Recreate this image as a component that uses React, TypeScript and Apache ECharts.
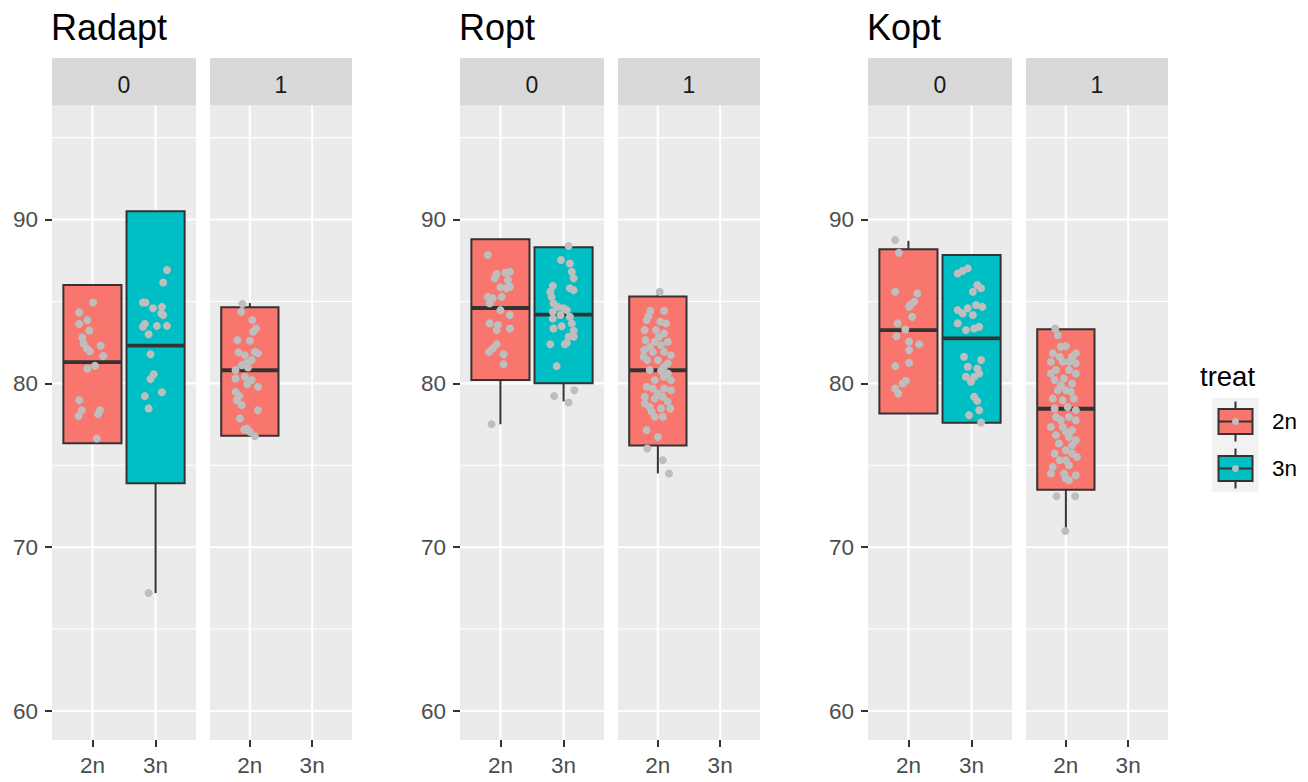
import React, { useEffect, useRef } from "react";
import * as echarts from "echarts";

const panelTitles = ["Radapt", "Ropt", "Kopt"];
const facetLabels = ["0", "1"];
const treatLabels = ["2n", "3n"];
const treatColors = ["#F8766D", "#00BFC4"];
const yTickValues = [60, 70, 80, 90];
const yGridValues = [60, 65, 70, 75, 80, 85, 90, 95];
const yRange = [58.23, 96.96];
const xRange = [0.36, 2.64];
const xPositions = [1, 2];

// [facet, treatIdx, lowerWhisker, q1, median, q3, upperWhisker]
const radaptBoxes = [
  [0, 0, 76.34, 76.34, 81.3, 86.0, 86.0],
  [0, 1, 67.2, 73.9, 82.3, 90.5, 90.5],
  [1, 0, 76.8, 76.8, 80.8, 84.65, 84.9],
];
const roptBoxes = [
  [0, 0, 77.5, 80.2, 84.6, 88.8, 88.8],
  [0, 1, 78.9, 80.0, 84.2, 88.3, 88.3],
  [1, 0, 74.5, 76.2, 80.8, 85.3, 85.5],
];
const koptBoxes = [
  [0, 0, 78.16, 78.16, 83.25, 88.18, 88.7],
  [0, 1, 77.59, 77.59, 82.74, 87.83, 87.83],
  [1, 0, 71.0, 73.5, 78.45, 83.3, 83.3],
];

// jittered points: [x offset, value]
const radapt0_2n = [[0.01,84.94],[-0.21,84.33],[-0.08,83.86],[-0.21,83.62],[-0.05,83.23],[-0.16,82.8],[-0.14,82.44],[-0.09,82.13],[-0.04,81.95],[0.13,82.29],[0.17,81.66],[0.04,81.07],[-0.08,80.91],[-0.21,78.97],[-0.17,78.36],[-0.22,78.0],[0.12,78.36],[0.09,78.12],[0.07,76.63]];
const radapt0_3n = [[0.18,86.92],[0.12,86.16],[-0.2,84.94],[-0.16,84.94],[-0.04,84.58],[0.1,84.67],[0.09,84.27],[0.12,84.17],[-0.17,83.62],[-0.2,83.45],[0.02,83.51],[0.18,83.51],[-0.11,83.0],[-0.08,81.78],[-0.03,80.56],[-0.08,80.26],[-0.17,79.22],[0.1,79.46],[-0.11,78.47],[-0.11,67.2]];
const radapt1_2n = [[-0.12,84.84],[-0.14,84.37],[0.04,83.86],[0.1,83.35],[0.05,83.15],[-0.2,82.64],[0,82.6],[-0.18,81.89],[-0.08,81.72],[0.08,81.92],[0.13,81.83],[0.03,81.42],[-0.05,81.25],[-0.13,81.11],[-0.23,80.81],[-0.03,80.97],[-0.08,80.4],[-0.23,80.3],[0.03,80.2],[0.13,79.79],[-0.04,79.95],[-0.23,79.48],[-0.17,79.22],[-0.21,78.97],[-0.13,78.67],[0.13,78.36],[-0.16,77.85],[-0.09,77.18],[0,77.04],[0.08,76.77],[-0.05,77.24]];
const radapt1_3n: number[][] = [];

const ropt0_2n = [[-0.2,87.83],[-0.06,86.67],[0.08,86.75],[0.15,86.81],[-0.09,86.41],[0.12,86.3],[0,85.86],[0.09,85.8],[-0.2,85.28],[-0.12,85.19],[0.02,85.28],[0.15,85.9],[-0.17,84.88],[0,84.47],[0.15,84.17],[-0.17,83.66],[-0.04,83.56],[-0.06,83.25],[0.15,83.35],[-0.06,82.39],[-0.18,81.92],[-0.12,82.13],[0.05,81.78],[0.05,81.17],[-0.14,77.51]];
const ropt0_3n = [[0.08,88.38],[-0.04,87.53],[0.1,87.32],[0.13,86.81],[0.16,86.41],[-0.17,85.94],[0.1,85.8],[0.16,85.69],[-0.21,85.59],[-0.19,85.28],[-0.16,84.88],[-0.09,84.67],[0,84.58],[0.05,84.47],[-0.17,84.37],[-0.05,84.17],[0.1,84.06],[0.13,83.66],[-0.17,83.96],[-0.03,83.49],[-0.16,83.35],[0.16,83.21],[0.08,82.84],[0.16,82.84],[-0.21,82.39],[0.05,82.47],[0.02,82.39],[-0.11,81.05],[-0.15,79.22],[0.17,79.58],[0.08,78.83]];
const ropt1_2n = [[0.03,85.59],[-0.12,84.43],[0.1,84.43],[-0.18,83.86],[0.04,83.76],[0.13,83.66],[-0.21,83.25],[-0.03,83.25],[0.1,83.05],[-0.2,82.64],[-0.05,82.54],[0.16,82.54],[-0.22,82.03],[-0.08,81.92],[0.1,81.92],[0.21,81.72],[-0.17,81.42],[0,81.42],[0.16,81.22],[-0.13,80.81],[0.05,80.77],[0.1,80.4],[0.16,80.6],[-0.18,79.79],[-0.08,79.69],[0.1,79.69],[0.21,79.58],[-0.21,79.18],[-0.05,79.08],[0.08,79.18],[-0.13,78.56],[0.05,78.47],[0.2,78.47],[-0.05,77.96],[0.08,77.96],[-0.18,77.14],[0,76.73],[-0.17,76.02],[0.08,75.31],[0.18,74.5],[-0.15,84.1],[0.02,82.84],[-0.13,82.23],[0.05,82.33],[-0.23,81.62],[0.1,81.01],[-0.05,80.19],[0.21,80.19],[0,79.38],[0.16,78.87],[-0.1,78.26],[-0.21,78.77]];
const ropt1_3n: number[][] = [];

const kopt0_2n = [[-0.21,88.75],[-0.15,87.97],[-0.21,85.59],[0.14,85.49],[0.09,84.98],[0.01,84.67],[0.06,84.06],[-0.17,83.66],[-0.05,83.29],[-0.19,82.88],[0.01,82.54],[0.17,82.38],[0.01,82.03],[-0.21,81.05],[0.01,81.25],[-0.04,80.15],[-0.09,79.99],[-0.21,79.69],[-0.16,79.38],[0.03,84.8]];
const kopt0_3n = [[-0.22,86.71],[-0.06,87.02],[-0.14,86.87],[0.09,86.0],[0.02,85.59],[0.15,85.8],[-0.22,84.47],[-0.06,84.58],[0.07,84.78],[0.17,84.67],[-0.14,84.27],[0.02,84.17],[-0.22,83.66],[-0.09,83.25],[0.04,83.35],[0.12,83.45],[-0.12,81.62],[0.15,81.42],[-0.06,81.01],[0.09,80.91],[-0.09,80.4],[0.04,80.4],[-0.01,80.09],[0.12,80.6],[0.04,79.18],[0.09,78.93],[0.12,78.36],[-0.04,78.06],[0.15,77.61]];
const kopt1_2n = [[-0.17,83.35],[-0.13,82.94],[-0.08,82.23],[0,82.27],[0.16,81.83],[-0.21,81.83],[0.1,81.62],[-0.24,81.31],[-0.05,81.31],[0.16,81.22],[-0.16,80.81],[0.05,80.81],[0.16,80.6],[-0.18,80.2],[-0.03,80.3],[0.1,79.99],[-0.13,79.58],[0,79.58],[-0.21,79.08],[0.13,79.08],[-0.05,78.97],[0.03,78.56],[-0.16,77.95],[0.05,77.95],[0.16,77.75],[-0.24,77.34],[-0.05,77.34],[0.1,77.14],[-0.16,76.84],[0.05,76.73],[0.16,76.53],[-0.11,76.33],[0,75.92],[-0.18,75.72],[0.1,75.72],[0.18,75.51],[0,75.31],[-0.21,74.9],[0.05,75.0],[-0.24,74.49],[0.16,74.39],[0,74.19],[0.05,74.09],[-0.15,73.11],[0.15,73.11],[-0.01,70.99],[-0.1,81.62],[0.05,81.31],[-0.24,80.6],[-0.08,79.89],[0.08,79.48],[-0.18,78.47],[0.16,78.36],[-0.08,77.75],[0,77.04],[0.1,76.22],[-0.1,75.31],[-0.03,74.49]];
const kopt1_3n: number[][] = [];

const panelBoxes = [radaptBoxes, roptBoxes, koptBoxes];
// points[panel][facet][treat]
const panelPoints = [
  [[radapt0_2n, radapt0_3n], [radapt1_2n, radapt1_3n]],
  [[ropt0_2n, ropt0_3n], [ropt1_2n, ropt1_3n]],
  [[kopt0_2n, kopt0_3n], [kopt1_2n, kopt1_3n]],
];

// layout (pixels)
const panelLefts = [52, 460, 868];
const facetOffsets = [0, 158];
const facetWidths = [144, 142];
const plotTop = 105.5;
const plotHeight = 634.5;
const stripTop = 58;
const FONT = "Liberation Sans, Arial, sans-serif";
const BOX_HALF = 0.46;

export default function App() {
  const ref = useRef<HTMLDivElement>(null);
  useEffect(() => {
    if (!ref.current) return;
    const chart = echarts.init(ref.current, null, { renderer: "svg" });
    const grids: any[] = [];
    const xAxes: any[] = [];
    const yAxes: any[] = [];
    const series: any[] = [];
    const graphics: any[] = [];

    panelTitles.forEach((title, p) => {
      graphics.push({
        type: "text",
        x: panelLefts[p] - 1,
        y: 27,
        style: {
          text: title,
          fontSize: 36,
          fontFamily: FONT,
          fill: "#000000",
          verticalAlign: "middle",
        },
      });
      facetLabels.forEach((fl, f) => {
        const gi = p * 2 + f;
        const left = panelLefts[p] + facetOffsets[f];
        const width = facetWidths[f];
        grids.push({
          left,
          top: plotTop,
          width,
          height: plotHeight,
          show: true,
          backgroundColor: "#EBEBEB",
          borderWidth: 0,
        });
        graphics.push({
          type: "rect",
          shape: { x: left, y: stripTop, width, height: plotTop - stripTop },
          style: { fill: "#D9D9D9" },
        });
        graphics.push({
          type: "text",
          x: left + width / 2,
          y: 85,
          style: {
            text: fl,
            fontSize: 23,
            fontFamily: FONT,
            fill: "#1A1A1A",
            align: "center",
            verticalAlign: "middle",
          },
        });
        xAxes.push({
          type: "value",
          gridIndex: gi,
          min: xRange[0],
          max: xRange[1],
          axisLine: { show: false },
          splitLine: { show: false },
          axisTick: {
            show: true,
            customValues: xPositions,
            length: 7,
            lineStyle: { color: "#333333", width: 2 },
          },
          axisLabel: {
            show: true,
            customValues: xPositions,
            formatter: (v: number) => treatLabels[Math.round(v) - 1] ?? "",
            color: "#4D4D4D",
            fontSize: 22.5,
            fontFamily: FONT,
            margin: 14,
          },
        });
        yAxes.push({
          type: "value",
          gridIndex: gi,
          min: yRange[0],
          max: yRange[1],
          axisLine: { show: false },
          splitLine: { show: false },
          axisTick: {
            show: f === 0,
            customValues: yTickValues,
            length: 7,
            lineStyle: { color: "#333333", width: 2 },
          },
          axisLabel: {
            show: f === 0,
            customValues: yTickValues,
            color: "#4D4D4D",
            fontSize: 22.5,
            fontFamily: FONT,
            margin: 14,
          },
        });
        // horizontal grid lines
        series.push({
          type: "custom",
          xAxisIndex: gi,
          yAxisIndex: gi,
          z: 1,
          silent: true,
          data: yGridValues.map((v) => [v, v % 10 === 0 ? 1 : 0]),
          renderItem: (params: any, api: any) => {
            const cs = params.coordSys;
            const y = api.coord([xRange[0], api.value(0)])[1];
            return {
              type: "line",
              shape: { x1: cs.x, y1: y, x2: cs.x + cs.width, y2: y },
              style: { stroke: "#FFFFFF", lineWidth: api.value(1) ? 2.1 : 1.05 },
            };
          },
        });
        // vertical grid lines
        series.push({
          type: "custom",
          xAxisIndex: gi,
          yAxisIndex: gi,
          z: 1,
          silent: true,
          data: xPositions.map((v) => [v]),
          renderItem: (params: any, api: any) => {
            const cs = params.coordSys;
            const x = api.coord([api.value(0), yRange[0]])[0];
            return {
              type: "line",
              shape: { x1: x, y1: cs.y, x2: x, y2: cs.y + cs.height },
              style: { stroke: "#FFFFFF", lineWidth: 2.1 },
            };
          },
        });
        // boxes
        const boxes = panelBoxes[p]
          .filter((b) => b[0] === f)
          .map((b) => [xPositions[b[1]], b[2], b[3], b[4], b[5], b[6], b[1]]);
        series.push({
          type: "custom",
          xAxisIndex: gi,
          yAxisIndex: gi,
          z: 2,
          silent: true,
          data: boxes,
          renderItem: (_params: any, api: any) => {
            const x = api.value(0);
            const lo = api.coord([x, api.value(1)]);
            const q1 = api.coord([x - BOX_HALF, api.value(2)]);
            const med = api.coord([x - BOX_HALF, api.value(3)]);
            const q3 = api.coord([x + BOX_HALF, api.value(4)]);
            const hi = api.coord([x, api.value(5)]);
            const color = treatColors[api.value(6)];
            const stroke = { stroke: "#333333", lineWidth: 2 };
            return {
              type: "group",
              children: [
                { type: "line", shape: { x1: lo[0], y1: lo[1], x2: lo[0], y2: q1[1] }, style: stroke },
                { type: "line", shape: { x1: hi[0], y1: hi[1], x2: hi[0], y2: q3[1] }, style: stroke },
                {
                  type: "rect",
                  shape: { x: q1[0], y: q3[1], width: q3[0] - q1[0], height: q1[1] - q3[1] },
                  style: { fill: color, stroke: "#333333", lineWidth: 2 },
                },
                {
                  type: "line",
                  shape: { x1: q1[0], y1: med[1], x2: q3[0], y2: med[1] },
                  style: { stroke: "#333333", lineWidth: 3.8 },
                },
              ],
            };
          },
        });
        // points
        const pts: number[][] = [];
        panelPoints[p][f].forEach((grp, t) => {
          grp.forEach((pt) => pts.push([xPositions[t] + pt[0], pt[1]]));
        });
        series.push({
          type: "scatter",
          xAxisIndex: gi,
          yAxisIndex: gi,
          z: 3,
          silent: true,
          symbol: "circle",
          symbolSize: 8,
          itemStyle: { color: "#BEBEBE", opacity: 1 },
          data: pts,
        });
      });
    });

    // legend
    const legX = 1212;
    const legTop = 398;
    const keyH = 47;
    graphics.push({
      type: "text",
      x: 1200,
      y: 376,
      style: {
        text: "treat",
        fontSize: 27.5,
        fontFamily: FONT,
        fill: "#000000",
        verticalAlign: "middle",
      },
    });
    graphics.push({
      type: "rect",
      shape: { x: legX, y: legTop, width: 46.5, height: keyH * 2 },
      style: { fill: "#F2F2F2" },
    });
    treatLabels.forEach((lab, k) => {
      const cy = legTop + keyH * k + keyH / 2;
      const cx = legX + 23.5;
      graphics.push({
        type: "line",
        shape: { x1: cx, y1: cy - 20, x2: cx, y2: cy + 20 },
        style: { stroke: "#333333", lineWidth: 2 },
      });
      graphics.push({
        type: "rect",
        shape: { x: legX + 6.5, y: cy - 12.5, width: 34, height: 25 },
        style: { fill: treatColors[k], stroke: "#333333", lineWidth: 2 },
      });
      graphics.push({
        type: "line",
        shape: { x1: legX + 6.5, y1: cy, x2: legX + 40.5, y2: cy },
        style: { stroke: "#333333", lineWidth: 2 },
      });
      graphics.push({
        type: "circle",
        shape: { cx, cy, r: 3.5 },
        style: { fill: "#BEBEBE" },
      });
      graphics.push({
        type: "text",
        x: 1272,
        y: cy,
        style: {
          text: lab,
          fontSize: 22.5,
          fontFamily: FONT,
          fill: "#000000",
          verticalAlign: "middle",
        },
      });
    });

    chart.setOption({
      animation: false,
      backgroundColor: "#FFFFFF",
      grid: grids,
      xAxis: xAxes,
      yAxis: yAxes,
      series,
      graphic: graphics,
    });
    return () => chart.dispose();
  }, []);
  return (
    <div
      ref={ref}
      style={{ position: "fixed", left: 0, top: 0, width: 1308, height: 782 }}
    />
  );
}
